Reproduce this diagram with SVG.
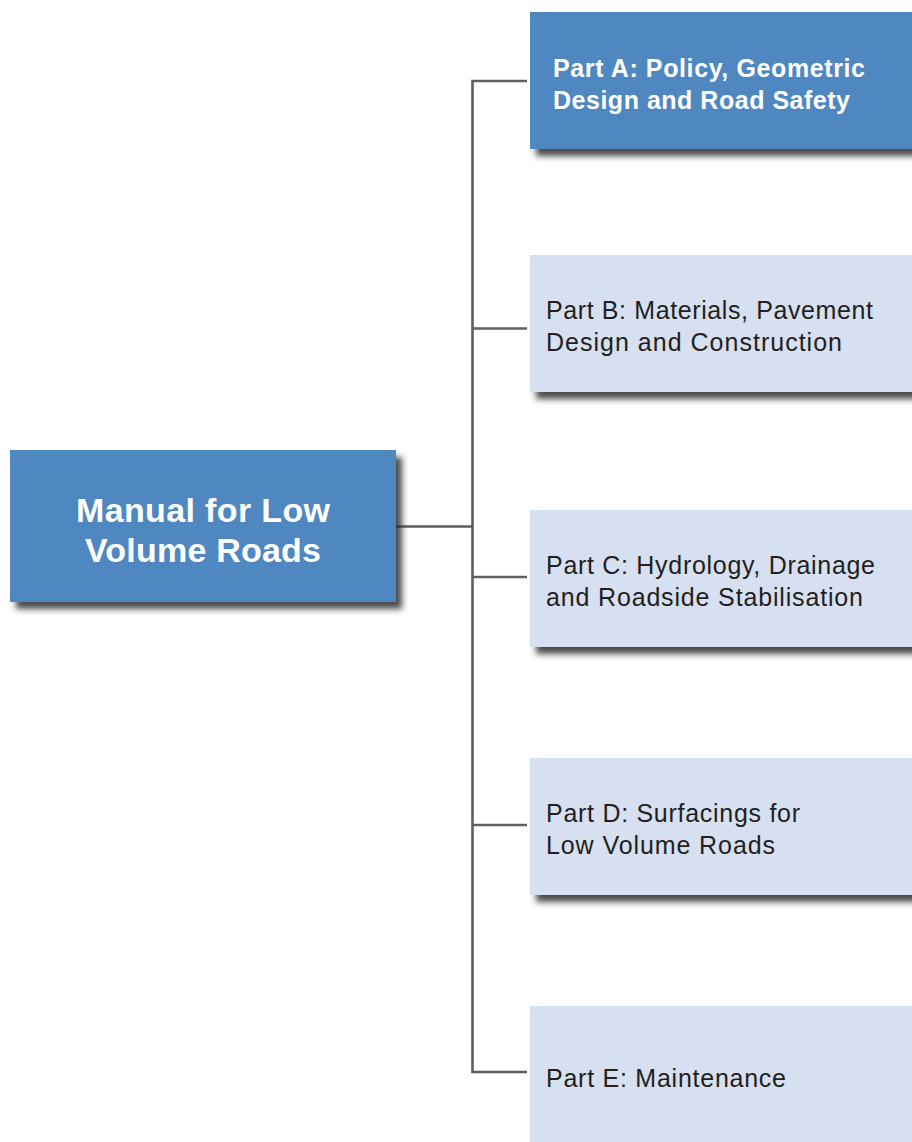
<svg xmlns="http://www.w3.org/2000/svg" width="912" height="1142" viewBox="0 0 912 1142">
<defs>
<filter id="sh" x="-10%" y="-20%" width="130%" height="150%">
<feGaussianBlur in="SourceAlpha" stdDeviation="3"/>
<feOffset dx="6" dy="7" result="b"/>
<feFlood flood-color="#2a2a2a" flood-opacity="0.85"/>
<feComposite in2="b" operator="in"/>
<feMerge><feMergeNode/><feMergeNode in="SourceGraphic"/></feMerge>
</filter>
</defs>
<style>
.dark{fill:#5087c0;filter:url(#sh)}
.light{fill:#d6e0f0;filter:url(#sh)}
.tb{font-family:"Liberation Sans",Arial,sans-serif;font-weight:bold;fill:#ffffff}
.tr{font-family:"Liberation Sans",Arial,sans-serif;font-size:25px;fill:#231f20}
.ln{stroke:#5f5f5f;stroke-width:2.6;fill:none}
</style>
<rect width="912" height="1142" fill="#ffffff"/>
<g id="connectors">
<path class="ln" d="M396 526.5 H472.5 M472.5 81 V1072 M471.2 81 H527 M471.2 328.5 H527 M471.2 577 H527 M471.2 825 H527 M471.2 1072 H527"/>
</g>
<g id="main">
<rect class="dark" x="10" y="450" width="386" height="152"/>
<text class="tb" font-size="34" x="76" y="522" textLength="254" lengthAdjust="spacing">Manual for Low</text>
<text class="tb" font-size="34" x="85" y="562" textLength="236" lengthAdjust="spacing">Volume Roads</text>
</g>
<g id="partA">
<rect class="dark" x="530" y="12" width="400" height="137"/>
<text class="tb" font-size="25" x="553" y="77" textLength="312" lengthAdjust="spacing">Part A: Policy, Geometric</text>
<text class="tb" font-size="25" x="553" y="109" textLength="297" lengthAdjust="spacing">Design and Road Safety</text>
</g>
<g id="partB">
<rect class="light" x="530" y="255" width="400" height="137"/>
<text class="tr" x="546" y="319" textLength="327" lengthAdjust="spacing">Part B: Materials, Pavement</text>
<text class="tr" x="546" y="351" textLength="296" lengthAdjust="spacing">Design and Construction</text>
</g>
<g id="partC">
<rect class="light" x="530" y="510" width="400" height="137"/>
<text class="tr" x="546" y="574" textLength="329" lengthAdjust="spacing">Part C: Hydrology, Drainage</text>
<text class="tr" x="546" y="606" textLength="317" lengthAdjust="spacing">and Roadside Stabilisation</text>
</g>
<g id="partD">
<rect class="light" x="530" y="758" width="400" height="137"/>
<text class="tr" x="546" y="822" textLength="254" lengthAdjust="spacing">Part D: Surfacings for</text>
<text class="tr" x="546" y="854" textLength="229" lengthAdjust="spacing">Low Volume Roads</text>
</g>
<g id="partE">
<rect class="light" x="530" y="1006" width="400" height="150"/>
<text class="tr" x="546" y="1087" textLength="240" lengthAdjust="spacing">Part E: Maintenance</text>
</g>
</svg>
